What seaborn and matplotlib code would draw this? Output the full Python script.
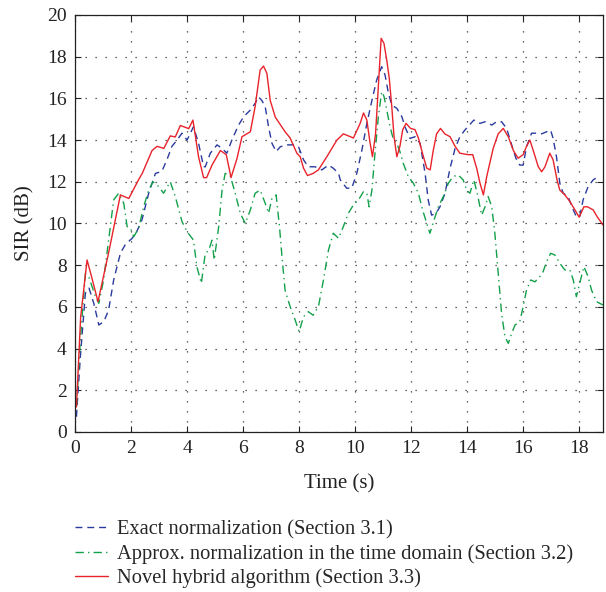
import numpy as np
import pandas as pd
import matplotlib
matplotlib.use('Agg')
import matplotlib.pyplot as plt
import seaborn as sns

# Data
exact_t = [0.05, 0.19, 0.37, 0.5, 0.67, 0.85, 1.03, 1.2, 1.38, 1.62, 1.8, 2.04, 2.2, 2.39,
           2.63, 2.87, 3.1, 3.28, 3.46, 3.64, 3.82, 4.0, 4.23, 4.41, 4.59, 4.65, 4.83, 5.07,
           5.25, 5.42, 5.6, 5.84, 6.02, 6.26, 6.43, 6.55, 6.67, 6.79, 6.91, 7.03, 7.18, 7.33,
           7.56, 7.8, 7.98, 8.16, 8.33, 8.57, 8.81, 9.05, 9.22, 9.41, 9.47, 9.7, 9.88, 10.06,
           10.24, 10.42, 10.6, 10.77, 10.95, 11.07, 11.19, 11.31, 11.49, 11.67, 11.78, 11.96,
           12.14, 12.32, 12.5, 12.61, 12.73, 12.89, 13.03, 13.21, 13.39, 13.57, 13.74, 13.92,
           14.08, 14.24, 14.46, 14.64, 14.88, 15.05, 15.23, 15.41, 15.59, 15.74, 15.88, 16.0,
           16.12, 16.3, 16.48, 16.66, 16.84, 16.98, 17.07, 17.19, 17.31, 17.43, 17.6, 17.79,
           17.9, 18.02, 18.14, 18.32, 18.5, 18.68]
exact_sir = [0.73, 3.6, 6.65, 6.9, 6.17, 5.13, 5.3, 5.85, 7.29, 8.57, 9.0, 9.29, 9.6, 10.17,
             11.45, 12.4, 12.5, 13.05, 13.7, 14.0, 14.33, 14.0, 14.64, 13.85, 12.72, 12.72,
             13.37, 13.77, 13.6, 13.37, 14.0, 14.72, 15.12, 15.44, 15.76, 16.08, 15.9, 15.6,
             14.64, 13.85, 13.45, 13.68, 13.77, 13.77, 13.68, 13.05, 12.72, 12.72, 12.57, 12.8,
             12.65, 12.4, 12.09, 11.69, 11.69, 12.4, 13.5, 14.8, 15.9, 16.88, 17.52, 17.12,
             16.24, 15.68, 15.52, 15.12, 14.64, 14.08, 14.16, 13.85, 12.4, 11.13, 10.4, 10.49,
             10.8, 11.45, 12.65, 13.6, 14.16, 14.48, 14.72, 14.96, 14.8, 14.88, 14.72, 14.88,
             14.88, 14.56, 13.77, 13.13, 12.8, 12.8, 13.68, 14.33, 14.33, 14.3, 14.4, 14.48,
             14.08, 13.2, 11.93, 11.45, 11.3, 10.65, 10.33, 10.33, 11.13, 11.77, 12.09, 12.25]

approx_t = [0.05, 0.19, 0.37, 0.5, 0.61, 0.73, 0.85, 1.02, 1.2, 1.38, 1.56, 1.74, 1.86, 1.98,
            2.1, 2.27, 2.45, 2.63, 2.78, 2.99, 3.16, 3.4, 3.58, 3.82, 4.0, 4.23, 4.35, 4.51,
            4.65, 4.77, 4.89, 4.97, 5.13, 5.25, 5.36, 5.54, 5.72, 5.9, 6.08, 6.26, 6.43, 6.61,
            6.79, 6.91, 7.03, 7.18, 7.3, 7.39, 7.5, 7.68, 7.86, 8.0, 8.16, 8.33, 8.5, 8.69,
            8.87, 9.05, 9.22, 9.41, 9.58, 9.76, 9.94, 10.12, 10.3, 10.42, 10.5, 10.6, 10.71,
            10.83, 10.95, 11.03, 11.13, 11.25, 11.37, 11.49, 11.6, 11.72, 11.9, 12.08, 12.26,
            12.41, 12.56, 12.67, 12.82, 12.97, 13.15, 13.33, 13.5, 13.68, 13.86, 13.98, 14.1,
            14.24, 14.36, 14.52, 14.64, 14.75, 14.88, 14.99, 15.11, 15.23, 15.35, 15.47, 15.59,
            15.71, 15.88, 16.0, 16.12, 16.27, 16.42, 16.54, 16.69, 16.84, 16.98, 17.13, 17.31,
            17.49, 17.67, 17.79, 17.9, 18.02, 18.17, 18.32, 18.44, 18.62, 18.85]
approx_sir = [1.2, 4.4, 7.6, 7.4, 6.97, 6.5, 6.17, 7.29, 9.2, 11.13, 11.45, 10.97, 9.85, 9.77,
              9.37, 9.77, 10.8, 11.6, 12.0, 11.77, 11.45, 12.0, 11.29, 10.09, 9.61, 9.2, 7.93,
              7.13, 8.57, 8.7, 9.2, 8.25, 9.85, 11.6, 12.4, 12.3, 11.45, 10.49, 10.0, 10.65,
              11.45, 11.6, 10.97, 10.49, 11.2, 11.37, 9.85, 8.4, 6.8, 6.01, 5.37, 4.81, 5.53,
              5.77, 5.6, 6.01, 7.29, 8.73, 9.53, 9.29, 9.85, 10.49, 10.89, 11.13, 11.53, 11.45,
              10.8, 11.6, 13.37, 15.12, 16.32, 16.1, 15.44, 14.64, 14.0, 13.85, 13.45, 12.88,
              12.25, 11.93, 11.45, 10.65, 10.0, 9.53, 10.17, 10.8, 11.29, 11.93, 12.25, 12.33,
              12.09, 11.6, 11.45, 12.09, 11.45, 10.4, 10.8, 11.29, 10.8, 9.53, 7.61, 5.69,
              4.57, 4.25, 4.73, 5.13, 5.29, 6.01, 6.81, 7.29, 7.2, 7.37, 7.61, 8.17, 8.57, 8.49,
              8.09, 7.77, 7.77, 7.29, 6.49, 7.13, 7.93, 7.45, 6.81, 6.25, 6.09]

hybrid_t = [0.05, 0.2, 0.43, 0.6, 0.82, 1.2, 1.62, 1.92, 2.27, 2.4, 2.75, 2.93, 3.17, 3.4,
            3.58, 3.76, 4.06, 4.21, 4.41, 4.59, 4.7, 4.89, 5.19, 5.4, 5.57, 5.78, 5.96, 6.26,
            6.43, 6.61, 6.73, 6.85, 6.97, 7.15, 7.3, 7.5, 7.68, 7.92, 8.04, 8.16, 8.3, 8.5,
            8.69, 8.99, 9.35, 9.58, 9.94, 10.18, 10.3, 10.42, 10.53, 10.62, 10.73, 10.83,
            10.93, 11.03, 11.13, 11.22, 11.31, 11.39, 11.49, 11.6, 11.7, 11.82, 11.98, 12.14,
            12.26, 12.44, 12.56, 12.68, 12.79, 12.91, 13.05, 13.2, 13.39, 13.57, 13.74, 14.04,
            14.2, 14.34, 14.46, 14.58, 14.7, 14.81, 14.93, 15.11, 15.29, 15.47, 15.65, 15.82,
            16.0, 16.12, 16.24, 16.36, 16.54, 16.66, 16.78, 16.95, 17.07, 17.21, 17.31, 17.49,
            17.67, 17.85, 18.0, 18.17, 18.3, 18.5, 18.64, 18.85]
hybrid_sir = [1.2, 5.5, 8.25, 7.4, 6.25, 8.6, 11.37, 11.2, 12.1, 12.4, 13.5, 13.7, 13.6, 14.2,
              14.15, 14.7, 14.55, 14.96, 13.2, 12.2, 12.2, 12.8, 13.5, 13.3, 12.2, 13.1, 14.16,
              14.4, 15.6, 17.36, 17.55, 17.2, 15.9, 15.1, 14.8, 14.4, 14.1, 13.37, 13.2, 12.65,
              12.3, 12.4, 12.57, 13.2, 14.0, 14.3, 14.1, 14.8, 15.3, 14.96, 13.9, 13.2, 14.3,
              16.56, 18.88, 18.64, 17.84, 16.96, 15.6, 14.16, 13.2, 13.7, 14.5, 14.8, 14.56,
              14.5, 14.1, 13.2, 12.65, 12.57, 13.5, 14.3, 14.56, 14.3, 14.16, 13.7, 13.37, 13.3,
              13.3, 12.65, 11.93, 11.37, 12.25, 12.9, 13.6, 14.3, 14.56, 14.16, 13.5, 13.13,
              13.3, 13.7, 14.0, 13.5, 12.72, 12.48, 12.72, 13.37, 13.05, 12.09, 11.6, 11.37,
              11.05, 10.65, 10.3, 10.8, 10.8, 10.65, 10.33, 9.93]

labels = ['Exact normalization (Section 3.1)',
          'Approx. normalization in the time domain (Section 3.2)',
          'Novel hybrid algorithm (Section 3.3)']

sns.set_style('ticks')
plt.rcParams['font.family'] = ['Liberation Serif', 'DejaVu Serif']
plt.rcParams['font.size'] = 14

fig = plt.figure(figsize=(6.06, 5.92), dpi=100)
ax = fig.add_axes([0.1238, 0.2703, 0.8712, 0.7044])

sns.lineplot(x=exact_t, y=exact_sir, ax=ax, color='#2a3a9e', lw=1.0,
             linestyle=(0, (5, 3.5)), label=labels[0], sort=False)
sns.lineplot(x=approx_t, y=approx_sir, ax=ax, color='#13a04a', lw=1.0,
             linestyle=(0, (6, 3, 1, 3)), label=labels[1], sort=False)
sns.lineplot(x=hybrid_t, y=hybrid_sir, ax=ax, color='#e8232b', lw=1.0,
             linestyle='-', label=labels[2], sort=False)

ax.set_xlim(0, 18.85)
ax.set_ylim(0, 20)
ax.set_xticks(np.arange(0, 19, 2))
ax.set_yticks(np.arange(0, 21, 2))
ax.grid(True, color='#333333', linestyle=(0, (1, 7)), linewidth=0.9)
ax.tick_params(direction='in', top=True, right=True, length=4, width=0.8,
               labelsize=14, colors='#222222', pad=6)
for s in ax.spines.values():
    s.set_color('#222222')
    s.set_linewidth(0.9)
    s.set_visible(True)

ax.set_xlabel('Time (s)', fontsize=15, color='#222222', labelpad=12)
ax.set_ylabel('SIR (dB)', fontsize=15, color='#222222', labelpad=9)

ax.get_legend().remove()
handles, lbls = ax.get_legend_handles_labels()
fig.legend(handles, lbls, loc='upper left', bbox_to_anchor=(0.1238, 0.1215),
           frameon=False, fontsize=14.8, handlelength=1.6, handletextpad=0.44,
           labelspacing=0.23, borderaxespad=0, borderpad=0)

plt.savefig('out.png', dpi=100)
